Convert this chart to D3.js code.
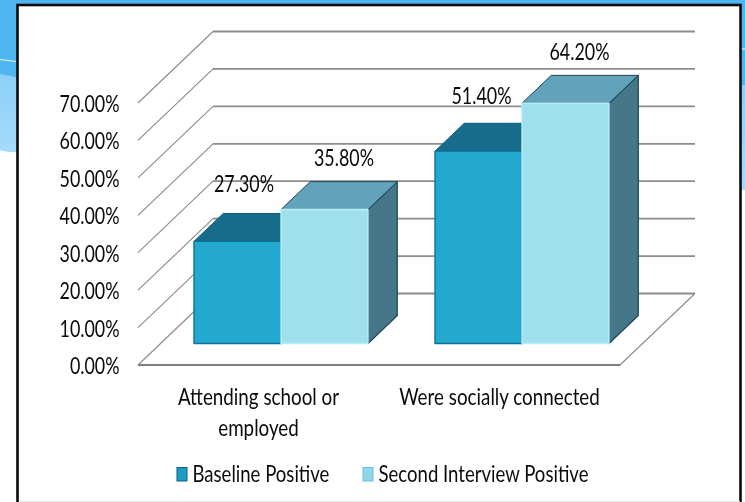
<!DOCTYPE html>
<html lang="en">
<head>
    <meta charset="UTF-8">
    <title>Baseline vs Second Interview</title>
    <style>
        body { margin: 0; overflow: hidden; background: #fff; }
        /* the source is a soft, upscaled screenshot */
        svg { display: block; filter: blur(0.35px); }
        text { font-family: 'Lato', sans-serif; fill: #0a0a0a; }
    </style>
</head>
<body>
    <script src="https://d3js.org/d3.v7.min.js"></script>
    <script>
        // Values
        const categories = ['Attending school or employed', 'Were socially connected'];
        const categoryLines = [['Attending school or', 'employed'], ['Were socially connected']];
        const seriesNames = ['Baseline Positive', 'Second Interview Positive'];
        const baseline = [27.3, 51.4];
        const secondInterview = [35.8, 64.2];
        const yTicks = [0, 10, 20, 30, 40, 50, 60, 70];

        const width = 745, height = 502;
        const seriesValues = [baseline, secondInterview];

        // Per series look: front face, top, side, edge
        const seriesColors = [
            { front: '#23a9cf', top: '#186c8b', side: '#186c8b', edge: '#0f5f80', swatch: '#1d9cc4' },
            { front: '#a0e0ed', top: '#62a3bb', side: '#467789', edge: '#1a4456', swatch: '#8fd6e8' }
        ];
        // Hand placed data label offsets from each bar's front top centre, [category][series]
        const labelOffset = [
            [{ dx: 6.5, dy: -49 }, { dx: 19.5, dy: -44 }],
            [{ dx: 3, dy: -47 }, { dx: 14, dy: -43 }]
        ];

        const svg = d3.select('body').append('svg')
            .attr('width', width)
            .attr('height', height);

        // The slide behind the chart
        const bg = svg.append('g');
        const grad = svg.append('defs').append('linearGradient')
            .attr('id', 'band').attr('x1', 0).attr('x2', 0).attr('y1', 0).attr('y2', 1);
        grad.append('stop').attr('offset', 0).attr('stop-color', '#8dcff8');
        grad.append('stop').attr('offset', 1).attr('stop-color', '#a6dbfb');
        bg.append('rect').attr('width', width).attr('height', 155).attr('fill', '#4eb7f1');
        bg.append('rect').attr('x', 725).attr('width', 20).attr('height', 190).attr('fill', '#4eb7f1');
        bg.append('path').attr('d', 'M0,74 L20,78 L20,154 L0,150 Z').attr('fill', 'url(#band)');
        bg.append('path').attr('d', 'M0,155 L20,155 L20,154 L0,150 Z').attr('fill', '#fff');
        bg.append('rect').attr('y', 152).attr('width', 20).attr('height', 350).attr('fill', '#fff');
        bg.append('rect').attr('x', 725).attr('y', 85).attr('width', 20).attr('height', 105).attr('fill', 'url(#band)');
        bg.append('path').attr('d', 'M0,59.5 L20,62').attr('stroke', '#e6f6ff').attr('stroke-width', 1.2);
        bg.append('path').attr('d', 'M725,49 L745,49').attr('stroke', '#e6f6ff').attr('stroke-width', 1.2);

        // White panel with its black frame
        svg.append('rect').attr('x', 17.5).attr('y', 5).attr('width', 723).attr('height', 520)
            .attr('fill', '#fff').attr('stroke', '#0a0a0a').attr('stroke-width', 2.6);
        svg.append('rect').attr('x', 19).attr('y', 501).attr('width', 721).attr('height', 1).attr('fill', '#e4e4e4');

        // Front plane scales; depth is an oblique shift added on top of them
        const floorLeft = 138, floorRight = 620, floorFront = 365, perTen = 37.43;
        const y = d3.scaleLinear().domain([0, 70]).range([floorFront, floorFront - perTen * 7]);
        const x0 = d3.scaleBand().domain(categories).range([floorLeft, floorRight]);
        const x1 = d3.scaleBand().domain(d3.range(seriesNames.length))
            .range([0, x0.bandwidth()]).paddingInner(0).paddingOuter(0.385);
        const depthX = d3.scaleLinear().domain([0, 1]).range([0, 75]);
        const depthY = d3.scaleLinear().domain([0, 1]).range([0, -71.5]);

        // depth 0 is the front of the floor, 1 the back wall
        const pt = (px, v, z) => [px + depthX(z), y(v) + depthY(z)];
        const line = d3.line();

        // Walls: diagonal on the left, level line along the back
        const grid = svg.append('g').attr('fill', 'none');
        grid.selectAll('.diag').data(yTicks).enter().append('path')
            .attr('class', 'diag')
            .attr('d', d => line([pt(floorLeft, d, 0), pt(floorLeft, d, 1)]))
            .attr('stroke', '#8a8a8a').attr('stroke-width', 1.1);
        grid.selectAll('.back').data(yTicks).enter().append('path')
            .attr('class', 'back')
            .attr('d', d => line([pt(floorLeft, d, 1), pt(floorRight, d, 1)]))
            .attr('stroke', '#8c8c8c').attr('stroke-width', 1.8);
        // Front and right edge of the floor
        grid.append('path')
            .attr('d', line([pt(floorLeft, 0, 0), pt(floorRight, 0, 0)]))
            .attr('stroke', '#7f7f7f').attr('stroke-width', 1.8);
        grid.append('path')
            .attr('d', line([pt(floorRight, 0, 0), pt(floorRight, 0, 1)]))
            .attr('stroke', '#8a8a8a').attr('stroke-width', 1.1);

        // Bars sit between these depths
        const zFront = 0.3, zBack = 0.69;
        const bars = [];
        categories.forEach((c, ci) => {
            seriesNames.forEach((s, si) => {
                bars.push({ c, ci, si, value: seriesValues[si][ci] });
            });
        });

        const barGroups = svg.selectAll('.bar').data(bars).enter().append('g')
            .attr('class', 'bar')
            .attr('stroke-linejoin', 'round');
        const poly = pts => line(pts) + 'Z';
        const xa = d => x0(d.c) + x1(d.si);
        const xb = d => xa(d) + x1.bandwidth();

        barGroups.append('path') // right side
            .attr('d', d => poly([pt(xb(d), 0, zFront), pt(xb(d), 0, zBack), pt(xb(d), d.value, zBack), pt(xb(d), d.value, zFront)]))
            .attr('fill', d => seriesColors[d.si].side)
            .attr('stroke', d => seriesColors[d.si].edge).attr('stroke-width', 1.2);
        barGroups.append('path') // top
            .attr('d', d => poly([pt(xa(d), d.value, zFront), pt(xa(d), d.value, zBack), pt(xb(d), d.value, zBack), pt(xb(d), d.value, zFront)]))
            .attr('fill', d => seriesColors[d.si].top)
            .attr('stroke', d => seriesColors[d.si].edge).attr('stroke-width', 1);
        barGroups.append('path') // front
            .attr('d', d => poly([pt(xa(d), 0, zFront), pt(xa(d), d.value, zFront), pt(xb(d), d.value, zFront), pt(xb(d), 0, zFront)]))
            .attr('fill', d => seriesColors[d.si].front)
            .attr('stroke', d => d.si === 0 ? '#0f7196' : '#b6edf6').attr('stroke-width', 1.4);

        // Source text is a squeezed Calibri, so narrow the glyphs to suit
        const squeeze = (sel, f) => sel.each(function () {
            const len = this.getComputedTextLength();
            d3.select(this).attr('textLength', len * f).attr('lengthAdjust', 'spacingAndGlyphs');
        });
        const fontSize = 23.5, narrowNum = 0.76, narrowCat = 0.8, narrowLegend = 0.79;

        // Data labels
        const dataLabels = svg.selectAll('.data-label').data(bars).enter().append('text')
            .attr('class', 'data-label')
            .attr('x', d => pt((xa(d) + xb(d)) / 2, d.value, zFront)[0] + labelOffset[d.ci][d.si].dx)
            .attr('y', d => pt(xa(d), d.value, zFront)[1] + labelOffset[d.ci][d.si].dy)
            .attr('text-anchor', 'middle')
            .attr('font-size', fontSize)
            .text(d => d.value.toFixed(2) + '%');
        squeeze(dataLabels, narrowNum);

        // Y axis
        const yAxis = svg.append('g')
            .attr('transform', 'translate(119.5,1)')
            .call(d3.axisLeft(y).tickValues(yTicks).tickSize(0).tickPadding(0).tickFormat(d => d.toFixed(2) + '%'));
        yAxis.select('.domain').remove();
        yAxis.selectAll('text').attr('font-size', fontSize).attr('font-family', 'Lato').attr('fill', '#0a0a0a');
        squeeze(yAxis.selectAll('text'), narrowNum);

        // Category labels, wrapped by hand
        const catGroups = svg.selectAll('.cat').data(categories).enter().append('g')
            .attr('class', 'cat')
            .attr('transform', d => `translate(${x0(d) + x0.bandwidth() / 2},0)`);
        const catText = catGroups.selectAll('text').data((d, i) => categoryLines[i]).enter().append('text')
            .attr('y', (d, i) => 404.5 + i * 31)
            .attr('text-anchor', 'middle')
            .attr('font-size', fontSize)
            .text(d => d);
        squeeze(catText, narrowCat);

        // Legend
        const legendX = [176.5, 362.5];
        const legend = svg.selectAll('.legend').data(seriesNames).enter().append('g')
            .attr('class', 'legend')
            .attr('transform', (d, i) => `translate(${legendX[i]},467)`);
        legend.append('rect')
            .attr('x', 0.5).attr('y', 0.5).attr('width', 10).attr('height', 13.5)
            .attr('fill', (d, i) => seriesColors[i].swatch)
            .attr('stroke', (d, i) => i === 0 ? '#0f5f80' : '#6fc3d8').attr('stroke-width', 1);
        const legendText = legend.append('text')
            .attr('x', 16)
            .attr('y', 14.5)
            .attr('font-size', fontSize)
            .text(d => d);
        squeeze(legendText, narrowLegend);
    </script>
</body>
</html>
